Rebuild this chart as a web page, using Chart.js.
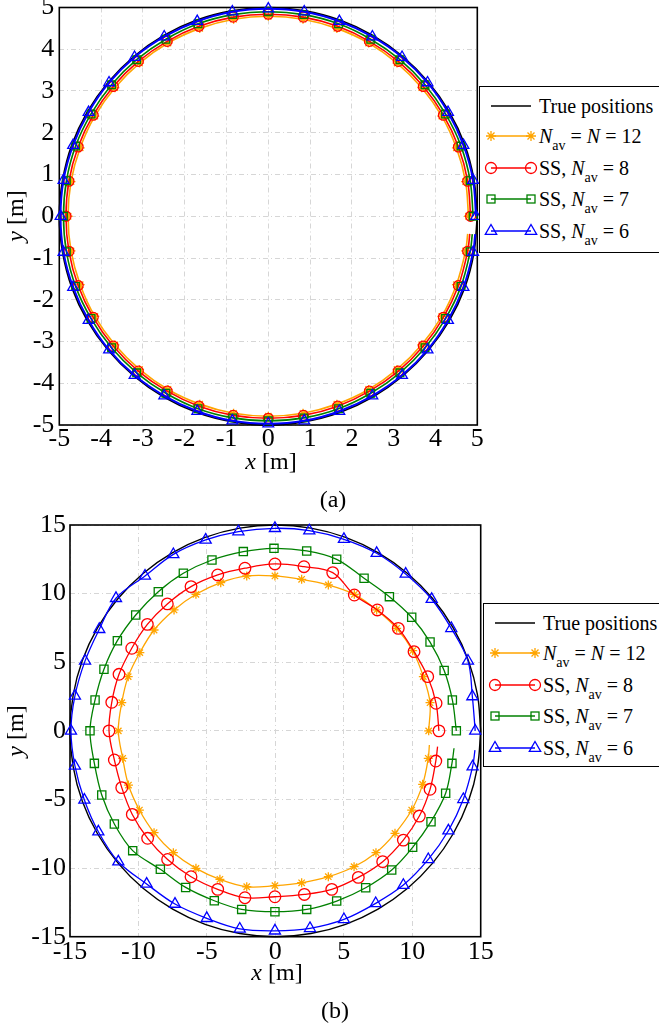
<!DOCTYPE html>
<html>
<head>
<meta charset="utf-8">
<script src="https://cdn.jsdelivr.net/npm/chart.js@4.4.1/dist/chart.umd.min.js"></script>
<style>
  html, body { margin: 0; padding: 0; background: #fff; }
  body { width: 659px; height: 1028px; position: relative; overflow: hidden;
         font-family: 'Liberation Serif', 'Times New Roman', serif; color: #000; }
  canvas { position: absolute; left: 0; }
  .legend { position: absolute; background: #fff; border: 1.3px solid #000; box-sizing: border-box; width: 184px; }
  .row { position: absolute; left: 0; height: 24px; display: flex; align-items: center;
         font-size: 20px; white-space: nowrap; }
  .row svg { flex: none; }
  .sub { font-size: 14px; position: relative; top: 7px; }
  .xtitle, .ytitle, .caption { position: absolute; font-size: 24px; line-height: 24px; height: 24px;
         text-align: center; white-space: nowrap; }
  .xtitle, .caption { width: 100px; }
  .ytitle { width: 70px; transform: rotate(-90deg); }
</style>
</head>
<body>
<canvas id="chartA" width="659" height="480" style="top:0px"></canvas>
<canvas id="chartB" width="659" height="548" style="top:480px"></canvas>

<div class="xtitle" style="left:221px; top:449px;"><i>x</i> [m]</div>
<div class="ytitle" style="left:-20px; top:204px;"><i>y</i> [m]</div>
<div class="caption" style="left:283px; top:487px;">(a)</div>

<div class="xtitle" style="left:227px; top:960px;"><i>x</i> [m]</div>
<div class="ytitle" style="left:-20px; top:719px;"><i>y</i> [m]</div>
<div class="caption" style="left:285px; top:998px;">(b)</div>

<div id="legA" class="legend" style="left:479px; top:86px; height:167px;"></div>
<div id="legB" class="legend" style="left:483px; top:603px; height:164px;"></div>

<script>
// panel (a): tick values
const aTicks = [-5, -4, -3, -2, -1, 0, 1, 2, 3, 4, 5];
// panel (b): tick values
const bTicks = [-15, -10, -5, 0, 5, 10, 15];

// markers every 10 deg starting at 0 deg, last entry = end of the track (no marker)
const aTrueX = [5, 4.92, 4.70, 4.33, 3.83, 3.21, 2.50, 1.71, 0.87, 0, -0.87, -1.71, -2.50, -3.21, -3.83, -4.33, -4.70, -4.92, -5, -4.92, -4.70, -4.33, -3.83, -3.21, -2.50, -1.71, -0.87, 0, 0.87, 1.71, 2.50, 3.21, 3.83, 4.33, 4.70, 4.92, 5];
const aTrueY = [0, 0.87, 1.71, 2.50, 3.21, 3.83, 4.33, 4.70, 4.92, 5, 4.92, 4.70, 4.33, 3.83, 3.21, 2.50, 1.71, 0.87, 0, -0.87, -1.71, -2.50, -3.21, -3.83, -4.33, -4.70, -4.92, -5, -4.92, -4.70, -4.33, -3.83, -3.21, -2.50, -1.71, -0.87, 0];

const aAvX = [4.79, 4.72, 4.50, 4.15, 3.67, 3.08, 2.40, 1.64, 0.83, 0, -0.83, -1.64, -2.40, -3.08, -3.67, -4.15, -4.50, -4.72, -4.79, -4.72, -4.50, -4.15, -3.67, -3.08, -2.40, -1.64, -0.83, 0, 0.83, 1.64, 2.40, 3.08, 3.67, 4.15, 4.50, 4.72, 4.77];
const aAvY = [0, 0.83, 1.64, 2.40, 3.08, 3.67, 4.15, 4.50, 4.72, 4.79, 4.72, 4.50, 4.15, 3.67, 3.08, 2.40, 1.64, 0.83, 0, -0.83, -1.64, -2.40, -3.08, -3.67, -4.15, -4.50, -4.72, -4.79, -4.72, -4.50, -4.15, -3.67, -3.08, -2.40, -1.64, -0.83, -0.42];

const aSS8X = [4.84, 4.77, 4.55, 4.19, 3.71, 3.11, 2.42, 1.66, 0.84, 0, -0.84, -1.66, -2.42, -3.11, -3.71, -4.19, -4.55, -4.77, -4.84, -4.77, -4.55, -4.19, -3.71, -3.11, -2.42, -1.66, -0.84, 0, 0.84, 1.66, 2.42, 3.11, 3.71, 4.19, 4.55, 4.77, 4.82];
const aSS8Y = [0, 0.84, 1.66, 2.42, 3.11, 3.71, 4.19, 4.55, 4.77, 4.84, 4.77, 4.55, 4.19, 3.71, 3.11, 2.42, 1.66, 0.84, 0, -0.84, -1.66, -2.42, -3.11, -3.71, -4.19, -4.55, -4.77, -4.84, -4.77, -4.55, -4.19, -3.71, -3.11, -2.42, -1.66, -0.84, -0.42];

const aSS7X = [4.90, 4.83, 4.61, 4.24, 3.75, 3.15, 2.45, 1.68, 0.85, 0, -0.85, -1.68, -2.45, -3.15, -3.75, -4.24, -4.61, -4.83, -4.90, -4.83, -4.61, -4.24, -3.75, -3.15, -2.45, -1.68, -0.85, 0, 0.85, 1.68, 2.45, 3.15, 3.75, 4.24, 4.61, 4.83, 4.88];
const aSS7Y = [0, 0.85, 1.68, 2.45, 3.15, 3.75, 4.24, 4.61, 4.83, 4.90, 4.83, 4.61, 4.24, 3.75, 3.15, 2.45, 1.68, 0.85, 0, -0.85, -1.68, -2.45, -3.15, -3.75, -4.24, -4.61, -4.83, -4.90, -4.83, -4.61, -4.24, -3.75, -3.15, -2.45, -1.68, -0.85, -0.43];

const aSS6X = [4.97, 4.90, 4.67, 4.30, 3.81, 3.20, 2.49, 1.70, 0.86, 0, -0.86, -1.70, -2.49, -3.20, -3.81, -4.30, -4.67, -4.90, -4.97, -4.90, -4.67, -4.30, -3.81, -3.20, -2.49, -1.70, -0.86, 0, 0.86, 1.70, 2.49, 3.20, 3.81, 4.30, 4.67, 4.90, 4.95];
const aSS6Y = [0, 0.86, 1.70, 2.49, 3.20, 3.81, 4.30, 4.67, 4.90, 4.97, 4.90, 4.67, 4.30, 3.81, 3.20, 2.49, 1.70, 0.86, 0, -0.86, -1.70, -2.49, -3.20, -3.81, -4.30, -4.67, -4.90, -4.97, -4.90, -4.67, -4.30, -3.81, -3.20, -2.49, -1.70, -0.86, -0.43];

const bTrueX = [15, 14.77, 14.10, 12.99, 11.49, 9.64, 7.50, 5.13, 2.60, 0, -2.60, -5.13, -7.50, -9.64, -11.49, -12.99, -14.10, -14.77, -15, -14.77, -14.10, -12.99, -11.49, -9.64, -7.50, -5.13, -2.60, 0, 2.60, 5.13, 7.50, 9.64, 11.49, 12.99, 14.10, 14.77, 15];
const bTrueY = [0, 2.60, 5.13, 7.50, 9.64, 11.49, 12.99, 14.10, 14.77, 15, 14.77, 14.10, 12.99, 11.49, 9.64, 7.50, 5.13, 2.60, 0, -2.60, -5.13, -7.50, -9.64, -11.49, -12.99, -14.10, -14.77, -15, -14.77, -14.10, -12.99, -11.49, -9.64, -7.50, -5.13, -2.60, 0];

const bAvX = [11.2, 11.3, 10.81, 10.03, 8.86, 7.4, 5.77, 3.87, 1.92, -0.03, -2.09, -3.99, -5.8, -7.4, -8.86, -9.9, -10.75, -11.22, -11.47, -11.15, -10.73, -9.93, -8.86, -7.45, -5.8, -4.05, -2.09, -0.03, 1.92, 3.87, 5.75, 7.35, 8.74, 9.96, 10.76, 11.17, 11.25];
const bAvY = [0, 2.05, 3.95, 5.84, 7.47, 8.81, 9.95, 10.63, 11.04, 11.29, 11.29, 10.8, 9.95, 8.81, 7.35, 5.7, 3.95, 2.05, 0, -2.0, -3.95, -5.77, -7.42, -8.88, -10.02, -10.82, -11.36, -11.28, -11.07, -10.63, -9.9, -8.88, -7.47, -5.77, -3.9, -2.0, -1.03];

const bSS8X = [11.95, 11.74, 11.13, 10.13, 8.98, 7.45, 5.77, 4.19, 2.09, -0.03, -2.22, -4.21, -6.16, -7.89, -9.35, -10.49, -11.42, -11.95, -12.15, -11.76, -11.22, -10.45, -9.33, -7.87, -6.16, -4.21, -2.22, -0.03, 2.12, 4.12, 6.06, 7.84, 9.35, 10.52, 11.3, 11.72, 11.85];
const bSS8Y = [0, 2.01, 3.95, 5.77, 7.47, 8.81, 9.9, 11.53, 11.96, 12.16, 11.85, 11.36, 10.51, 9.25, 7.76, 6.02, 4.12, 2.08, 0, -2.12, -4.14, -6.09, -7.83, -9.37, -10.63, -11.55, -12.16, -12.09, -11.92, -11.55, -10.68, -9.53, -7.96, -6.21, -4.26, -2.2, -1.15];

const bSS7X = [13.22, 12.93, 12.33, 11.3, 9.96, 8.33, 6.48, 4.48, 2.29, -0.1, -2.34, -4.63, -6.72, -8.55, -10.2, -11.54, -12.52, -13.17, -13.54, -13.22, -12.68, -11.76, -10.42, -8.4, -6.55, -4.46, -2.46, -0.03, 2.29, 4.48, 6.6, 8.5, 10.03, 11.37, 12.44, 12.9, 13.05];
const bSS7Y = [0, 2.25, 4.4, 6.47, 8.28, 9.78, 11.12, 12.5, 13.11, 13.3, 13.06, 12.45, 11.48, 10.14, 8.44, 6.57, 4.49, 2.25, 0, -2.37, -4.68, -6.79, -8.73, -10.09, -11.41, -12.38, -13.01, -13.18, -13.01, -12.4, -11.43, -10.14, -8.49, -6.62, -4.55, -2.37, -1.27];

const bSS6X = [14.6, 14.39, 14.07, 12.85, 11.42, 9.52, 7.4, 5.01, 2.48, -0.03, -2.7, -5.09, -7.45, -9.52, -11.64, -12.86, -13.9, -14.64, -14.93, -14.64, -13.95, -12.93, -11.47, -9.4, -7.33, -5.01, -2.6, -0.03, 2.53, 5.01, 7.33, 9.35, 11.17, 12.64, 13.73, 14.41, 14.58];
const bSS6Y = [0, 2.5, 5.1, 7.47, 9.59, 11.43, 12.94, 13.96, 14.59, 14.76, 14.52, 13.91, 12.86, 11.29, 9.66, 7.4, 5.1, 2.54, 0, -2.56, -5.04, -7.35, -9.54, -11.16, -12.62, -13.66, -14.43, -14.57, -14.39, -13.74, -12.57, -11.24, -9.37, -7.28, -4.99, -2.61, -1.4];

const MARKS = 36;
const FONT = "'Liberation Serif', 'Times New Roman', serif";
const ORANGE = '#FFA500', RED = '#FF0000', GREEN = '#008000', BLUE = '#0000FF';

function track(xs, ys, color, style, radius, width, order) {
    return {
        data: xs.map((x, i) => ({ x: x, y: ys[i] })),
        showLine: true,
        order: order,
        borderColor: color,
        borderWidth: width,
        tension: 0.35,
        pointStyle: style || 'circle',
        pointRadius: ctx => (style && ctx.dataIndex < MARKS) ? radius : 0,
        pointBorderColor: color,
        pointBackgroundColor: 'rgba(0,0,0,0)',
        pointBorderWidth: 1.3,
        clip: false
    };
}

const frame = {
    id: 'frame',
    beforeDatasetsDraw(chart) {
        const a = chart.chartArea;
        const ctx = chart.ctx;
        ctx.save();
        ctx.strokeStyle = '#000';
        ctx.lineWidth = 1.6;
        ctx.strokeRect(a.left, a.top, a.right - a.left, a.bottom - a.top);
        ctx.restore();
    }
};

function axis(ticks, pad, fit) {
    return {
        type: 'linear',
        min: ticks[0],
        max: ticks[ticks.length - 1],
        afterBuildTicks: s => { s.ticks = ticks.map(v => ({ value: v })); },
        ticks: {
            font: { family: FONT, size: 26, lineHeight: 1 },
            color: '#000',
            padding: pad,
            maxRotation: 0,
            autoSkip: false,
            callback: v => String(v)
        },
        grid: { color: '#d6d6d6', lineWidth: 1, drawTicks: false },
        border: { display: false, dash: [5, 3, 1, 3] },
        afterFit: fit
    };
}

function makeChart(id, datasets, ticks, box) {
    new Chart(document.getElementById(id), {
        type: 'scatter',
        data: { datasets: datasets },
        options: {
            responsive: false,
            animation: false,
            devicePixelRatio: 1,
            events: [],
            layout: { padding: { top: box.top, right: box.right, left: 0, bottom: 0 } },
            plugins: { legend: { display: false }, tooltip: { enabled: false } },
            scales: {
                x: axis(ticks, box.xPad, s => { s.height = box.xh; s.paddingLeft = 0; s.paddingRight = 0; }),
                y: axis(ticks, box.yPad, s => { s.width = box.yw; s.paddingTop = 0; s.paddingBottom = 0; })
            }
        },
        plugins: [frame]
    });
}

makeChart('chartA', [
    track(aTrueX, aTrueY, '#000', null, 0, 1.6, 4),
    track(aAvX, aAvY, ORANGE, 'star', 4.5, 1.6, 3),
    track(aSS8X, aSS8Y, RED, 'circle', 5, 1.6, 2),
    track(aSS7X, aSS7Y, GREEN, 'rect', 5.4, 1.6, 1),
    track(aSS6X, aSS6Y, BLUE, 'triangle', 6.2, 2, 0)
], aTicks, { top: 7.3, right: 181.7, yw: 59.3, xh: 55, xPad: 1, yPad: 5 });

makeChart('chartB', [
    track(bTrueX, bTrueY, '#000', null, 0, 1.4, 4),
    track(bAvX, bAvY, ORANGE, 'star', 4.5, 1.3, 3),
    track(bSS8X, bSS8Y, RED, 'circle', 5.8, 1.3, 2),
    track(bSS7X, bSS7Y, GREEN, 'rect', 5.8, 1.3, 1),
    track(bSS6X, bSS6Y, BLUE, 'triangle', 6.4, 1.3, 0)
], bTicks, { top: 45, right: 178.3, yw: 70, xh: 91.3, xPad: 2, yPad: 4 });

// legend (HTML so the subscripts and italics stay real text)
function marker(style, color, cx) {
    if (style === 'star') {
        return `<path d="M${cx - 5},12H${cx + 5}M${cx},7V17M${cx - 3.5},8.5L${cx + 3.5},15.5M${cx - 3.5},15.5L${cx + 3.5},8.5" stroke="${color}" stroke-width="1.3"/>`;
    }
    if (style === 'circle') {
        return `<circle cx="${cx}" cy="12" r="5.5" fill="none" stroke="${color}" stroke-width="1.3"/>`;
    }
    if (style === 'rect') {
        return `<rect x="${cx - 4}" y="8" width="8" height="8" fill="none" stroke="${color}" stroke-width="1.3"/>`;
    }
    if (style === 'triangle') {
        return `<polygon points="${cx},5.5 ${cx + 5.7},15.3 ${cx - 5.7},15.3" fill="none" stroke="${color}" stroke-width="1.3"/>`;
    }
    return '';
}

const legendRows = [
    { color: '#000', style: null, label: 'True positions' },
    { color: ORANGE, style: 'star', label: '<i>N</i><span class="sub">av</span> = <i>N</i> = 12' },
    { color: RED, style: 'circle', label: 'SS, <i>N</i><span class="sub">av</span> = 8' },
    { color: GREEN, style: 'rect', label: 'SS, <i>N</i><span class="sub">av</span> = 7' },
    { color: BLUE, style: 'triangle', label: 'SS, <i>N</i><span class="sub">av</span> = 6' }
];
const rowTops = [7, 37, 69, 100, 132];

function fillLegend(id) {
    const box = document.getElementById(id);
    box.innerHTML = legendRows.map((r, i) =>
        `<div class="row" style="top:${rowTops[i]}px">` +
        `<svg width="59" height="24"><line x1="11" y1="12" x2="51" y2="12" stroke="${r.color}" stroke-width="1.4"/>` +
        marker(r.style, r.color, 11) + marker(r.style, r.color, 51) + `</svg>` +
        `<span>${r.label}</span></div>`
    ).join('');
}
fillLegend('legA');
fillLegend('legB');
</script>
</body>
</html>
